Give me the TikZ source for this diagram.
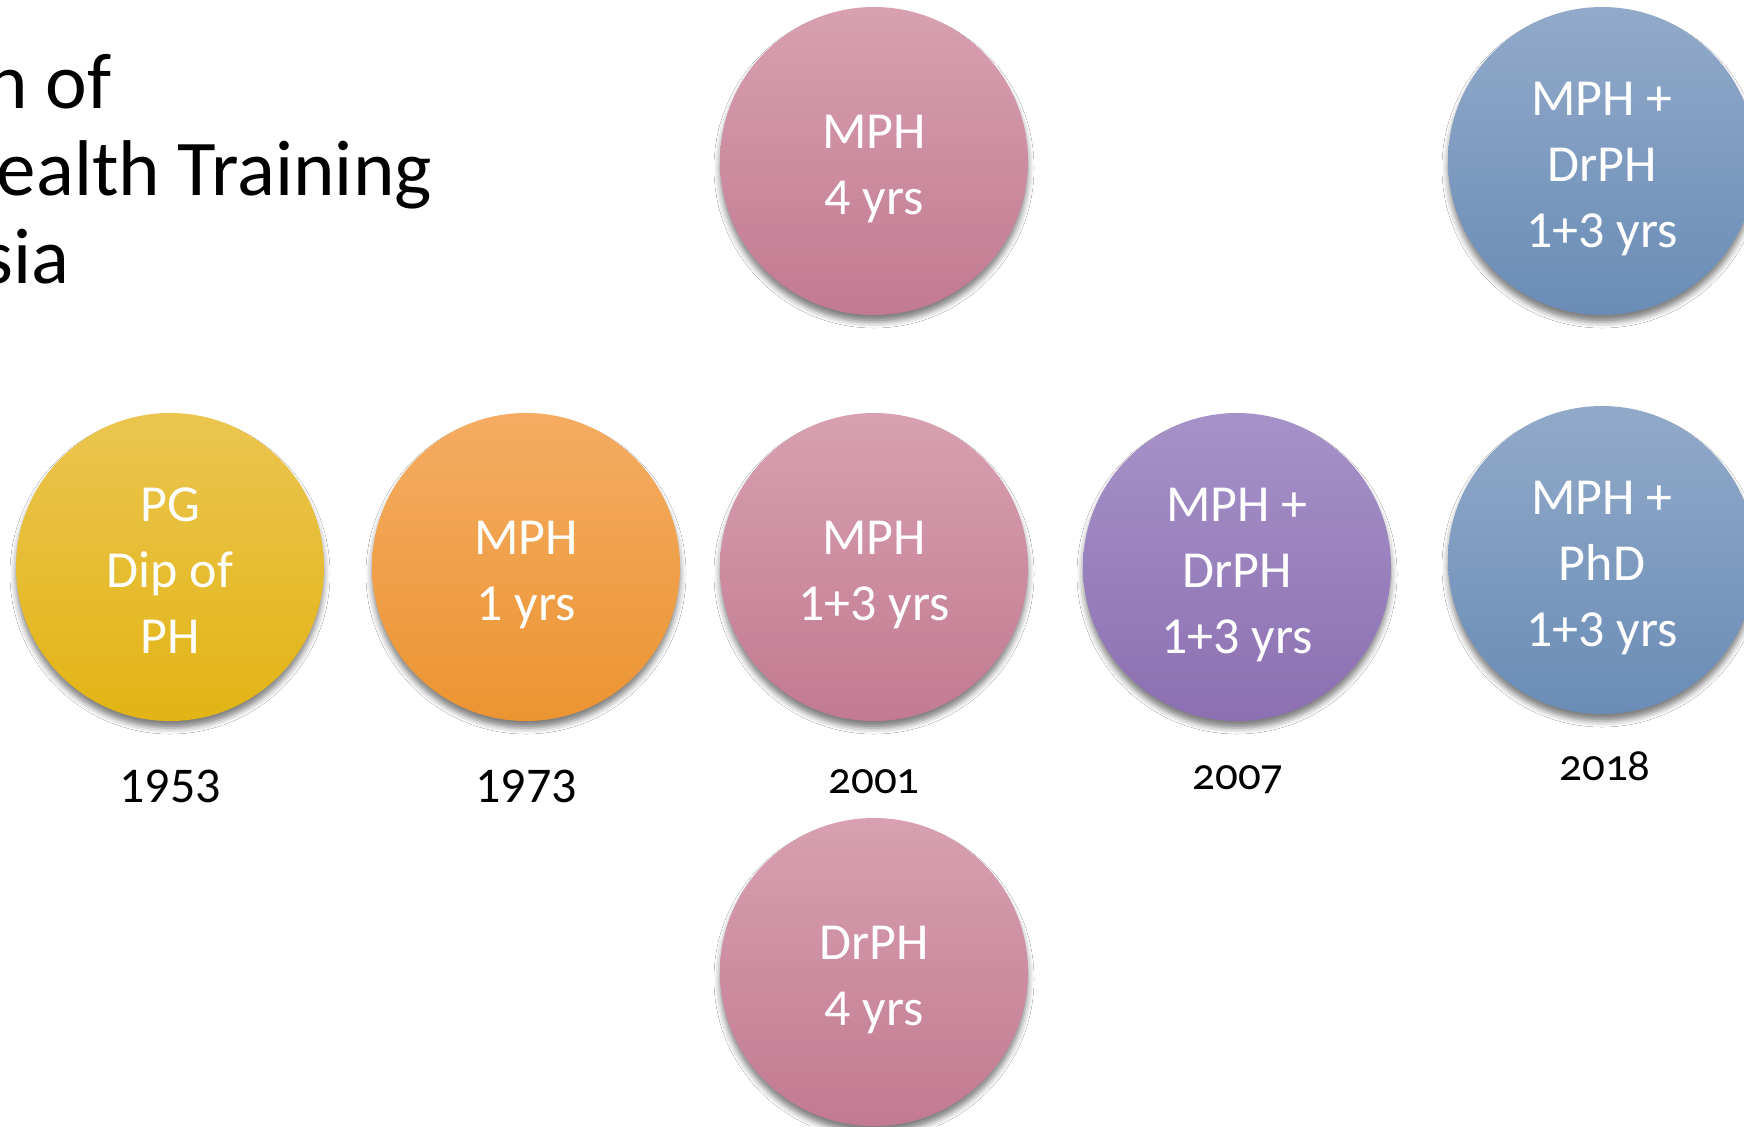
\documentclass[tikz,border=0pt]{standalone}
\usepackage{fontspec}
\setmainfont{Carlito}
\newfontfamily\oldnum[Numbers=OldStyle]{Carlito}
\usetikzlibrary{shadows.blur}
\definecolor{yelT}{RGB}{235,197,80}
\definecolor{yelB}{RGB}{226,180,20}
\definecolor{oraT}{RGB}{245,172,98}
\definecolor{oraB}{RGB}{235,148,50}
\definecolor{pinT}{RGB}{216,160,176}
\definecolor{pinB}{RGB}{194,122,145}
\definecolor{purT}{RGB}{166,146,200}
\definecolor{purB}{RGB}{140,112,178}
\definecolor{bluT}{RGB}{146,170,201}
\definecolor{bluB}{RGB}{106,140,182}
\newcommand{\circtext}[1]{\raisebox{-7bp}[\height][\depth]{\begin{tabular}{@{}c@{}}#1\end{tabular}}}
\begin{document}
\begin{tikzpicture}[x=1bp,y=-1bp,
  circ/.style={circle, minimum size=308bp, inner sep=0pt,
    text=white, font=\fontsize{52bp}{66bp}\selectfont,
    blur shadow={shadow xshift=0bp, shadow yshift=-7bp, shadow blur radius=6bp, shadow opacity=50}},
  yelc/.style={circ, top color=yelT, bottom color=yelB},
  orac/.style={circ, top color=oraT, bottom color=oraB},
  pinc/.style={circ, top color=pinT, bottom color=pinB},
  purc/.style={circ, top color=purT, bottom color=purB},
  bluc/.style={circ, top color=bluT, bottom color=bluB},
  bigyear/.style={font=\fontsize{50bp}{60bp}\selectfont, text=black},
  smallyear/.style={font=\oldnum\fontsize{45bp}{56bp}\selectfont, text=black},
  titl/.style={anchor=base east, font=\fontsize{79bp}{88bp}\selectfont, text=black, inner sep=0pt}
]
\useasboundingbox (0,0) rectangle (1744,1126);
\fill[white] (0,0) rectangle (1744,1126);

\node[titl] (t1) at (112,108) {n of};
\node[titl] (t2) at (432,195) {ealth Training};
\node[titl] (t3) at (70,283) {sia};

\node[yelc] (yel) at (170,567) {\circtext{PG\\Dip of\\PH}};
\node[orac] (ora) at (526,567) {\circtext{MPH\\1 yrs}};
\node[pinc] (pmid) at (874,567) {\circtext{MPH\\1+3 yrs}};
\node[pinc] (ptop) at (874,161) {\circtext{MPH\\4 yrs}};
\node[pinc] (pbot) at (874,972) {\circtext{DrPH\\4 yrs}};
\node[purc] (pur) at (1237,567) {\circtext{MPH +\\DrPH\\1+3 yrs}};
\node[bluc] (btop) at (1602,161) {\circtext{MPH +\\DrPH\\1+3 yrs}};
\node[bluc] (bbot) at (1602,560) {\circtext{MPH +\\PhD\\1+3 yrs}};

\node[bigyear] (y1953) at (170,786) {1953};
\node[bigyear] (y1973) at (526,786) {1973};
\node[smallyear] (y2001) at (874,782) {2001};
\node[smallyear] (y2007) at (1238,780) {2007};
\node[smallyear] (y2018) at (1605,766) {2018};
\end{tikzpicture}
\end{document}
